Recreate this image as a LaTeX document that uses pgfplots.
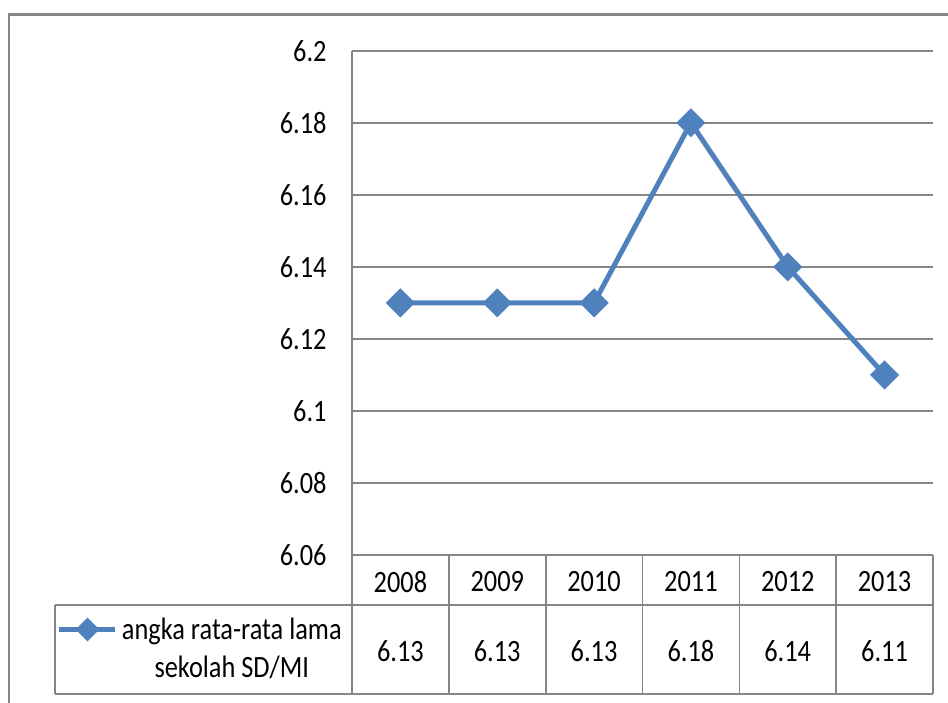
\documentclass[border=0pt]{standalone}
\usepackage{fontspec}
\setmainfont{Carlito}[FakeStretch=0.85]
\usepackage{pgfplots}
\pgfplotsset{compat=1.18}
\definecolor{excelblue}{RGB}{79,129,189}
\definecolor{gridgray}{RGB}{134,134,134}
\newcommand{\cf}{\fontsize{15.5}{19}\selectfont}
\begin{document}
\begin{tikzpicture}[x=0.5pt,y=-0.5pt]
\clip (0,0) rectangle (948,702);
\begin{axis}[
  at={(176pt,-277.5pt)}, anchor=south west,
  scale only axis, width=290.5pt, height=252.15pt,
  xmin=-0.5, xmax=5.5, ymin=6.06, ymax=6.2,
  xtick={0,1,2,3,4,5}, xticklabels={2008,2009,2010,2011,2012,2013},
  ytick={6.06,6.08,6.10,6.12,6.14,6.16,6.18,6.2},
  axis x line*=bottom, axis y line*=left,
  axis line style={-, gridgray, line width=0.8pt},
  ymajorgrids, grid style={gridgray, line width=0.8pt},
  major tick length=0pt,
  tick label style={font=\cf},
  yticklabel style={anchor=east, inner sep=0pt, xshift=-12.5pt, /pgf/number format/fixed, /pgf/number format/precision=2},
  xticklabel style={anchor=center, inner sep=0pt, yshift=-13.5pt},
  /pgf/number format/assume math mode=true,
  clip=false,
  legend style={draw=none, fill=none, inner sep=0pt, outer sep=0pt,
    at={(axis description cs:-0.5078,-0.1874)}, anchor=west,
    cells={align=center, font=\cf, inner xsep=1.5pt}},
  legend image code/.code={\draw[mark repeat=2,mark phase=2,#1,every mark/.append style={scale=0.75}] plot coordinates {(0pt,10pt) (14pt,10pt) (28pt,10pt)};},
]
\addplot[excelblue, line width=2.5pt, mark=square*, mark size=3.9pt, mark options={rotate=45, solid}]
  coordinates {(0,6.13) (1,6.13) (2,6.13) (3,6.18) (4,6.14) (5,6.11)};
\addlegendentry{angka rata-rata lama\\sekolah SD/MI}
\node[font=\cf] at ([yshift=-48pt]axis cs:0,6.06) {6.13};
\node[font=\cf] at ([yshift=-48pt]axis cs:1,6.06) {6.13};
\node[font=\cf] at ([yshift=-48pt]axis cs:2,6.06) {6.13};
\node[font=\cf] at ([yshift=-48pt]axis cs:3,6.06) {6.18};
\node[font=\cf] at ([yshift=-48pt]axis cs:4,6.06) {6.14};
\node[font=\cf] at ([yshift=-48pt]axis cs:5,6.06) {6.11};
\end{axis}
\draw[gridgray, line width=0.8pt] (55,605) -- (933,605);
\draw[gridgray, line width=0.8pt] (55,694) -- (933,694);
\draw[gridgray, line width=0.8pt] (55,605) -- (55,694);
\draw[gridgray, line width=0.8pt] (352,555) -- (352,694);
\foreach \xx in {448.8,545.7,642.5,739.3,836.2,933} {
  \draw[gridgray, line width=0.8pt] (\xx,555) -- (\xx,694);
}
\draw[gridgray, line width=1.2pt] (9,800) -- (9,14.5) -- (1000,14.5);
\end{tikzpicture}
\end{document}
